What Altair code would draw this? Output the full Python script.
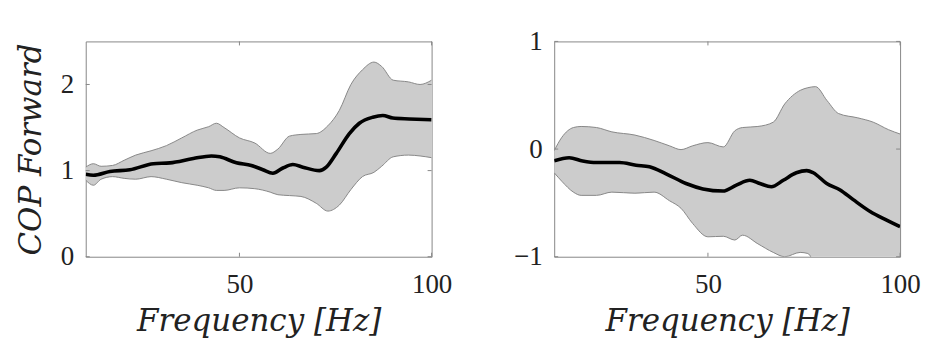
import altair as alt
import pandas as pd

# ---------------- data ----------------
# Left panel (COP Forward)
L_mean_x = [10, 12, 16.3, 21.5, 27.6, 31.9, 38, 42.7, 44.9, 49.2, 53.1, 56.1, 58.7, 61.3, 63.9,
            66.5, 70.8, 72.6, 75.2, 78.6, 81.2, 84.7, 87.3, 89.9, 94.2, 100]
L_mean_y = [0.958, 0.946, 0.99, 1.01, 1.08, 1.09, 1.14, 1.17, 1.16, 1.09, 1.06, 1.01, 0.97, 1.03, 1.07,
            1.04, 1.00, 1.04, 1.20, 1.43, 1.55, 1.62, 1.64, 1.61, 1.60, 1.59]
L_band_x = [10, 12, 14, 17, 20, 23, 27, 31, 35, 39, 42, 44, 46, 50, 54, 58, 60, 63, 66, 70,
            73, 76, 79, 82, 85, 87, 90, 94, 97, 100]
L_hi = [1.04, 1.08, 1.05, 1.06, 1.12, 1.18, 1.23, 1.29, 1.38, 1.47, 1.51, 1.55, 1.50, 1.38, 1.32,
        1.20, 1.25, 1.40, 1.42, 1.43, 1.52, 1.70, 2.00, 2.17, 2.26, 2.21, 2.05, 2.03, 2.00, 2.05]
L_lo = [0.89, 0.83, 0.90, 0.93, 0.91, 0.90, 0.93, 0.90, 0.86, 0.83, 0.80, 0.77, 0.77, 0.80, 0.79,
        0.75, 0.72, 0.71, 0.70, 0.62, 0.53, 0.60, 0.78, 0.93, 0.98, 1.05, 1.16, 1.18, 1.17, 1.15]

# Right panel
R_mean_x = [10, 13.9, 17.4, 20.9, 27, 31.3, 34.8, 39.1, 44.3, 48.7, 53.9, 57.4, 60.9, 63.5, 66.5,
            69.6, 73, 75.7, 77.4, 80.9, 84.4, 87.8, 92.2, 96.5, 100]
R_mean_y = [-0.11, -0.08, -0.11, -0.125, -0.125, -0.15, -0.165, -0.23, -0.32, -0.37, -0.39, -0.335,
            -0.29, -0.32, -0.35, -0.29, -0.22, -0.20, -0.22, -0.32, -0.38, -0.47, -0.58, -0.66, -0.72]
R_band_x = [10, 12, 15, 17, 21, 25, 31, 36, 40, 43, 46, 50, 54, 57, 59, 63, 67, 70, 74, 76, 78,
            81, 84, 89, 93, 97, 100]
R_hi = [-0.015, 0.11, 0.20, 0.21, 0.20, 0.16, 0.13, 0.08, 0.03, -0.005, 0.03, 0.06, 0.02, 0.17, 0.20,
        0.21, 0.25, 0.42, 0.545, 0.57, 0.58, 0.45, 0.33, 0.29, 0.25, 0.18, 0.14]
R_lo = [-0.22, -0.30, -0.40, -0.43, -0.43, -0.40, -0.41, -0.40, -0.48, -0.55, -0.69, -0.815, -0.81,
        -0.845, -0.80, -0.88, -0.96, -1.0, -0.96, -0.97, -1.08, -1.15, -1.2, -1.25, -1.3, -1.3, -1.3]

X_TICKS = [50, 100]
L_Y_TICKS = [0, 1, 2]
R_Y_TICKS = [-1, 0, 1]

W, H = 347, 216
BOX = "#888888"
FILL = "#cccccc"
TXT = "#222222"
INTERP = "monotone"


def panel(mx, my, bx, hi, lo, ydom, yticks, ytitle):
    mean = pd.DataFrame({"x": mx, "y": my})
    band = pd.DataFrame({"x": bx, "hi": hi, "lo": lo})
    xs = alt.Scale(domain=[10, 100], nice=False, zero=False)
    ys = alt.Scale(domain=ydom, nice=False, zero=False)
    xaxis = alt.Axis(values=X_TICKS, format=".0f", title="Frequency [Hz]",
                     labelPadding=15, titlePadding=9)
    yaxis = alt.Axis(values=yticks, format=".0f", title=ytitle if ytitle else "",
                     labelPadding=12, titlePadding=13)

    area = alt.Chart(band).mark_area(color=FILL, opacity=1, clip=True, interpolate=INTERP).encode(
        x=alt.X("x:Q", scale=xs, axis=xaxis),
        y=alt.Y("hi:Q", scale=ys, axis=yaxis),
        y2="lo:Q",
    )
    edge_hi = alt.Chart(band).mark_line(color=BOX, strokeWidth=1, clip=True, interpolate=INTERP).encode(
        x=alt.X("x:Q", scale=xs, axis=xaxis), y=alt.Y("hi:Q", scale=ys, axis=yaxis))
    edge_lo = alt.Chart(band).mark_line(color=BOX, strokeWidth=1, clip=True, interpolate=INTERP).encode(
        x=alt.X("x:Q", scale=xs, axis=xaxis), y=alt.Y("lo:Q", scale=ys, axis=yaxis))
    line = alt.Chart(mean).mark_line(color="black", strokeWidth=3.6, clip=True, interpolate=INTERP).encode(
        x=alt.X("x:Q", scale=xs, axis=xaxis), y=alt.Y("y:Q", scale=ys, axis=yaxis))

    xt = pd.DataFrame({"t": X_TICKS})
    yt = pd.DataFrame({"t": yticks})
    tick_top = alt.Chart(xt).mark_rule(color=BOX, strokeWidth=1).encode(
        x=alt.X("t:Q", scale=xs, axis=xaxis), y=alt.value(0), y2=alt.value(4))
    tick_bot = alt.Chart(xt).mark_rule(color=BOX, strokeWidth=1).encode(
        x=alt.X("t:Q", scale=xs, axis=xaxis), y=alt.value(H - 4), y2=alt.value(H))
    tick_l = alt.Chart(yt).mark_rule(color=BOX, strokeWidth=1).encode(
        y=alt.Y("t:Q", scale=ys, axis=yaxis), x=alt.value(0), x2=alt.value(4))
    tick_r = alt.Chart(yt).mark_rule(color=BOX, strokeWidth=1).encode(
        y=alt.Y("t:Q", scale=ys, axis=yaxis), x=alt.value(W - 4), x2=alt.value(W))

    return alt.layer(area, edge_hi, edge_lo, line, tick_top, tick_bot, tick_l, tick_r).properties(
        width=W, height=H)


left = panel(L_mean_x, L_mean_y, L_band_x, L_hi, L_lo, [0, 2.5], L_Y_TICKS, "COP Forward")
right = panel(R_mean_x, R_mean_y, R_band_x, R_hi, R_lo, [-1, 1], R_Y_TICKS, None)

chart = alt.hconcat(left, right, spacing=60).properties(
    padding={"left": 15, "top": 26, "right": 5, "bottom": 5},
    background="white",
).configure_view(
    stroke=BOX, strokeWidth=1
).configure_axis(
    domain=False, ticks=False, grid=False,
    labelFont="'Liberation Serif', serif", labelFontSize=27, labelColor=TXT,
    labelOverlap=False, labelBound=False, labelFlush=False,
    titleFont="'DejaVu Serif', serif", titleFontStyle="italic", titleFontWeight="normal",
    titleFontSize=31, titleColor=TXT,
)

chart.save("out.html", embed_options={"renderer": "svg", "actions": False})
